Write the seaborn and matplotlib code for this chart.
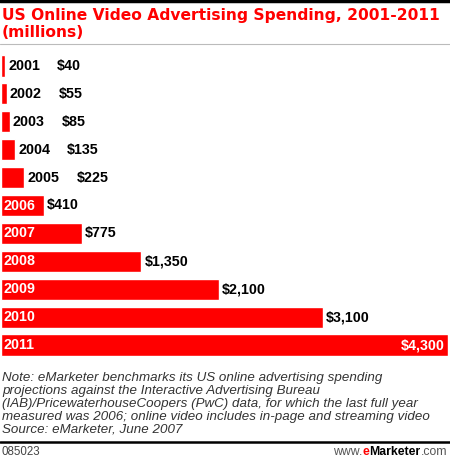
import matplotlib
matplotlib.use("Agg")
import matplotlib.pyplot as plt
import seaborn as sns
import pandas as pd

years = ["2001", "2002", "2003", "2004", "2005", "2006",
         "2007", "2008", "2009", "2010", "2011"]
spend = [40, 55, 85, 135, 225, 410, 775, 1350, 2100, 3100, 4300]
value_labels = ["$40", "$55", "$85", "$135", "$225", "$410",
                "$775", "$1,350", "$2,100", "$3,100", "$4,300"]

title = "US Online Video Advertising Spending, 2001-2011\n(millions)"
note = ("Note: eMarketer benchmarks its US online advertising spending\n"
        "projections against the Interactive Advertising Bureau\n"
        "(IAB)/PricewaterhouseCoopers (PwC) data, for which the last full year\n"
        "measured was 2006; online video includes in-page and streaming video\n"
        "Source: eMarketer, June 2007")
chart_id = "085023"

RED = "#ff0000"

df = pd.DataFrame({"year": years, "spend": spend})

sns.set_style("white")
plt.rcParams["font.family"] = ["Liberation Sans", "DejaVu Sans"]

W, H = 450, 459
fig = plt.figure(figsize=(W / 100, H / 100), dpi=100)

# bar area
ax = fig.add_axes([1 / W, 1 - 359 / H, 447 / W, 307 / H])
sns.barplot(data=df, x="spend", y="year", order=years, orient="h",
            color=RED, saturation=1, width=0.76, ax=ax)
ax.set_xlim(0, 4300)
ax.set_ylim(10.5, -0.5)
ax.axis("off")

px = 0.72  # points per pixel
fs = 10.3
for i, (v, lab) in enumerate(zip(spend, value_labels)):
    yr = years[i]
    if v < 300:
        # short bar: year and value both to the right
        ax.annotate(yr, (v, i), xytext=(3 * px, 0), textcoords="offset points",
                    ha="left", va="center", fontsize=fs, fontweight="bold",
                    color="black")
        ax.annotate(lab, (v, i), xytext=(52 * px, 0), textcoords="offset points",
                    ha="left", va="center", fontsize=fs, fontweight="bold",
                    color="black")
    else:
        ax.annotate(yr, (0, i), xytext=(3 * px, 0), textcoords="offset points",
                    ha="left", va="center", fontsize=fs, fontweight="bold",
                    color="white")
        if v == max(spend):
            ax.annotate(lab, (v, i), xytext=(-3 * px, 0), textcoords="offset points",
                        ha="right", va="center", fontsize=fs, fontweight="bold",
                        color="white")
        else:
            ax.annotate(lab, (v, i), xytext=(3 * px, 0), textcoords="offset points",
                        ha="left", va="center", fontsize=fs, fontweight="bold",
                        color="black")

# top rule, title, thin rule
fig.add_artist(plt.Line2D([0, 1], [1 - 1 / H, 1 - 1 / H], color="black", lw=2.5))
fig.text(2 / W, 1 - 24 / H, title, ha="left", va="center", fontsize=11.2,
         fontweight="bold", color=RED, linespacing=1.15,
         family=["DejaVu Sans"])
fig.add_artist(plt.Line2D([0, 1], [1 - 44 / H, 1 - 44 / H], color="#bbbbbb", lw=0.8))

# note block
fig.text(2 / W, 1 - 404 / H, note, ha="left", va="center", fontsize=9.6,
         style="italic", color="#333333", linespacing=1.1)
fig.add_artist(plt.Line2D([0, 1], [1 - 442 / H, 1 - 442 / H], color="black", lw=1.8))

# footer
fig.text(1 / W, 1 - 452 / H, chart_id, ha="left", va="center", fontsize=8.3,
         color="#444444")
renderer = fig.canvas.get_renderer()
x_right = 447 / W
parts = [(".com", "normal", "#555555"), ("Marketer", "bold", "black"),
         ("e", "bold", RED), ("www.", "normal", "#555555")]
for txt, wt, col in parts:
    t = fig.text(x_right, 1 - 452 / H, txt, ha="right", va="center",
                 fontsize=8.8, fontweight=wt, color=col)
    bb = t.get_window_extent(renderer=renderer)
    x_right = bb.x0 / W

fig.savefig("out.png", dpi=100)
